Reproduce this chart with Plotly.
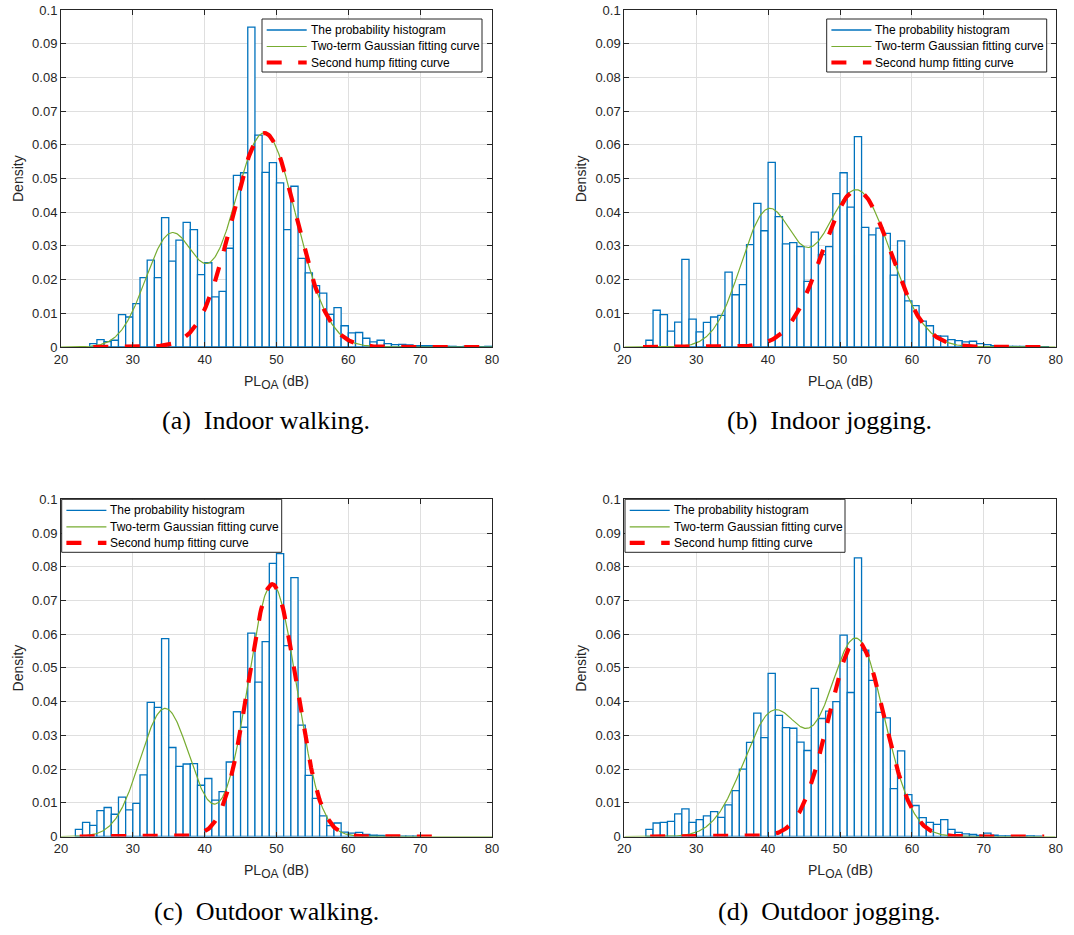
import numpy as np
import plotly.graph_objects as go

# ---------------------------------------------------------------------------
# Histogram densities (1 dB bins), first bin left edge given separately
# ---------------------------------------------------------------------------
bin_start_a = 24
density_a = [0.0010, 0.0022, 0.0016, 0.0020, 0.0096, 0.0089, 0.0129, 0.0206, 0.0258, 0.0206,
             0.0384, 0.0255, 0.0317, 0.0370, 0.0348, 0.0215, 0.0250, 0.0149, 0.0165, 0.0293,
             0.0509, 0.0517, 0.0949, 0.0629, 0.0518, 0.0547, 0.0487, 0.0348, 0.0477, 0.0263,
             0.0220, 0.0182, 0.0160, 0.0097, 0.0117, 0.0063, 0.0042, 0.0043, 0.0026, 0.0015,
             0.0020, 0.0010, 0.0007, 0.0008, 0.0006, 0.0004, 0.0004, 0.0004, 0.0003, 0.0002,
             0.0002, 0.0001, 0.0002, 0.0002, 0.0001, 0.0002]

bin_start_b = 23
density_b = [0.0020, 0.0109, 0.0096, 0.0047, 0.0074, 0.0260, 0.0083, 0.0045, 0.0073, 0.0089,
             0.0094, 0.0222, 0.0155, 0.0185, 0.0304, 0.0426, 0.0345, 0.0548, 0.0387, 0.0306,
             0.0310, 0.0298, 0.0195, 0.0341, 0.0274, 0.0298, 0.0455, 0.0517, 0.0415, 0.0624,
             0.0355, 0.0333, 0.0353, 0.0337, 0.0213, 0.0315, 0.0137, 0.0123, 0.0077, 0.0063,
             0.0033, 0.0032, 0.0022, 0.0019, 0.0015, 0.0017, 0.0010, 0.0007, 0.0004, 0.0003,
             0.0002, 0.0002, 0.0002, 0.0001, 0.0001, 0.0001]

bin_start_c = 22
density_c = [0.0021, 0.0042, 0.0033, 0.0077, 0.0086, 0.0066, 0.0117, 0.0079, 0.0098, 0.0183,
             0.0398, 0.0383, 0.0587, 0.0264, 0.0208, 0.0215, 0.0216, 0.0152, 0.0172, 0.0108,
             0.0133, 0.0221, 0.0370, 0.0324, 0.0603, 0.0458, 0.0578, 0.0810, 0.0839, 0.0566,
             0.0768, 0.0330, 0.0181, 0.0113, 0.0061, 0.0032, 0.0040, 0.0013, 0.0010, 0.0012,
             0.0006, 0.0004, 0.0003, 0.0002, 0.0002, 0.0001, 0.0001, 0.0001]

bin_start_d = 23
density_d = [0.0021, 0.0040, 0.0042, 0.0045, 0.0067, 0.0082, 0.0042, 0.0050, 0.0061, 0.0074,
             0.0057, 0.0094, 0.0136, 0.0200, 0.0279, 0.0366, 0.0293, 0.0484, 0.0359, 0.0323,
             0.0321, 0.0280, 0.0255, 0.0439, 0.0350, 0.0372, 0.0400, 0.0597, 0.0427, 0.0826,
             0.0553, 0.0463, 0.0368, 0.0352, 0.0142, 0.0254, 0.0124, 0.0092, 0.0056, 0.0042,
             0.0036, 0.0050, 0.0021, 0.0012, 0.0008, 0.0006, 0.0003, 0.0010, 0.0004, 0.0002,
             0.0002, 0.0002, 0.0001, 0.0002, 0.0001]

# Two-term Gaussian fit coefficients: a1, b1, c1, a2, b2, c2
# f(x) = a1*exp(-((x-b1)/c1)^2) + a2*exp(-((x-b2)/c2)^2)
gauss_a = [0.0330, 35.3, 5.0, 0.0635, 48.3, 6.3]
gauss_b = [0.0395, 39.9, 5.3, 0.0465, 52.3, 6.7]
gauss_c = [0.0380, 34.5, 4.9, 0.0748, 49.4, 4.75]
gauss_d = [0.0368, 40.8, 5.9, 0.0580, 52.3, 5.5]

# Span of the measured data (where the second-hump curve is drawn)
hump_span_a = [24.5, 78.3]
hump_span_b = [22.6, 78.6]
hump_span_c = [22.6, 73.0]
hump_span_d = [23.6, 78.4]

captions = ["(a)\u00a0 Indoor walking.", "(b)\u00a0 Indoor jogging.",
            "(c)\u00a0 Outdoor walking.", "(d)\u00a0 Outdoor jogging."]
legend_names = ["The probability histogram", "Two-term Gaussian fitting curve",
                "Second hump fitting curve"]
x_ticks = [20, 30, 40, 50, 60, 70, 80]
y_ticks = [0, 0.01, 0.02, 0.03, 0.04, 0.05, 0.06, 0.07, 0.08, 0.09, 0.1]

# ---------------------------------------------------------------------------
W, H = 1074, 935
BLUE = "#0072BD"
GREEN = "#77AC30"
RED = "#FF0000"
AXC = "#262626"
GRID = "#dfdfdf"
SANS = "Liberation Sans, Arial, Helvetica, sans-serif"
SERIF = "Liberation Serif, Times New Roman, serif"
RED_DASH = "15px,16.5px"

# plot-area boxes in pixels: left, right, top, bottom
boxes = [(61, 492, 10, 347), (624.3, 1055.7, 10, 347),
         (61, 492, 499.3, 836.5), (624.3, 1055.7, 499.3, 836.5)]
# legend boxes: left, top (pixels); fixed size
legend_pos = [(262, 19), (826.7, 19), (61.7, 499.3), (625, 499.3)]
LEG_W, LEG_H = 220, 53
LEG_ROWS = [11, 27.5, 43.5]
caption_pos = [(266, 421), (829, 421), (266, 911), (829, 911)]

panels = [(bin_start_a, density_a, gauss_a, hump_span_a),
          (bin_start_b, density_b, gauss_b, hump_span_b),
          (bin_start_c, density_c, gauss_c, hump_span_c),
          (bin_start_d, density_d, gauss_d, hump_span_d)]


def px_x(p):
    return p / W


def px_y(p):
    return 1 - p / H


def gauss_term(x, a, b, c):
    return a * np.exp(-((x - b) / c) ** 2)


fig = go.Figure()
layout = {}
annotations = []
shapes = []

for k, (start, dens, g, span) in enumerate(panels):
    sfx = "" if k == 0 else str(k + 1)
    xa, ya = "x" + sfx, "y" + sfx
    left, right, top, bottom = boxes[k]

    edges = [start + i for i in range(len(dens))]
    fig.add_trace(go.Bar(
        x=edges, y=dens, width=1, offset=0, name=legend_names[0],
        marker=dict(color="white", line=dict(color=BLUE, width=1.3)),
        xaxis=xa, yaxis=ya, showlegend=False))

    xf = np.linspace(20, 80, 601)
    yf = gauss_term(xf, *g[:3]) + gauss_term(xf, *g[3:])
    fig.add_trace(go.Scatter(x=xf, y=yf, mode="lines", name=legend_names[1],
                             line=dict(color=GREEN, width=1.2), xaxis=xa, yaxis=ya,
                             showlegend=False))

    xh = np.linspace(span[0], span[1], 400)
    yh = gauss_term(xh, *g[3:])
    fig.add_trace(go.Scatter(x=xh, y=yh, mode="lines", name=legend_names[2],
                             line=dict(color=RED, width=4.2, dash=RED_DASH),
                             xaxis=xa, yaxis=ya, showlegend=False))

    common = dict(showgrid=True, gridcolor=GRID, gridwidth=1, zeroline=False,
                  showline=True, linecolor=AXC, linewidth=1, mirror="ticks",
                  ticks="inside", ticklen=5, tickcolor=AXC, tickwidth=1,
                  automargin=False,
                  tickfont=dict(family=SANS, size=13, color=AXC))
    layout["xaxis" + sfx] = dict(common, domain=[px_x(left), px_x(right)],
                                 range=[20, 80], tickvals=x_ticks, anchor=ya)
    layout["yaxis" + sfx] = dict(common, domain=[px_y(bottom), px_y(top)],
                                 range=[0, 0.1], tickvals=y_ticks,
                                 ticktext=[f"{v:g}" for v in y_ticks], anchor=xa)

    # boxed legend in the MATLAB style
    lx, ly = legend_pos[k]
    shapes.append(dict(type="rect", xref="paper", yref="paper", layer="above",
                       x0=px_x(lx), x1=px_x(lx + LEG_W), y0=px_y(ly + LEG_H), y1=px_y(ly),
                       fillcolor="white", line=dict(color=AXC, width=1)))
    samples = [dict(color=BLUE, width=1.3), dict(color=GREEN, width=1.2),
               dict(color=RED, width=4.2, dash=RED_DASH)]
    for r, (name, ln) in enumerate(zip(legend_names, samples)):
        yy = px_y(ly + LEG_ROWS[r])
        shapes.append(dict(type="line", xref="paper", yref="paper", layer="above",
                           x0=px_x(lx + 4.7), x1=px_x(lx + 44.7), y0=yy, y1=yy, line=ln))
        annotations.append(dict(text=name, xref="paper", yref="paper",
                                x=px_x(lx + 46.5), y=yy, xanchor="left", yanchor="middle",
                                showarrow=False,
                                font=dict(family=SANS, size=12, color="black")))

    # axis titles
    annotations.append(dict(text="PL<sub><span style=\"font-size:12px\">OA</span></sub> (dB)",
                            xref="paper", yref="paper",
                            x=px_x((left + right) / 2), y=px_y(bottom + 35),
                            xanchor="center", yanchor="middle", showarrow=False,
                            font=dict(family=SANS, size=14, color=AXC)))
    annotations.append(dict(text="Density", xref="paper", yref="paper",
                            x=px_x(left - 43.5), y=px_y((top + bottom) / 2),
                            xanchor="center", yanchor="middle", textangle=-90,
                            showarrow=False, font=dict(family=SANS, size=14, color=AXC)))
    cx, cy = caption_pos[k]
    annotations.append(dict(text=captions[k], xref="paper", yref="paper",
                            x=px_x(cx), y=px_y(cy), xanchor="center", yanchor="middle",
                            showarrow=False, font=dict(family=SERIF, size=26, color="black")))

fig.update_layout(**layout)
fig.update_layout(width=W, height=H, margin=dict(l=0, r=0, t=0, b=0, autoexpand=False),
                  paper_bgcolor="white", plot_bgcolor="white", showlegend=False,
                  barmode="overlay", annotations=annotations, shapes=shapes)

fig.write_html("out.html")
